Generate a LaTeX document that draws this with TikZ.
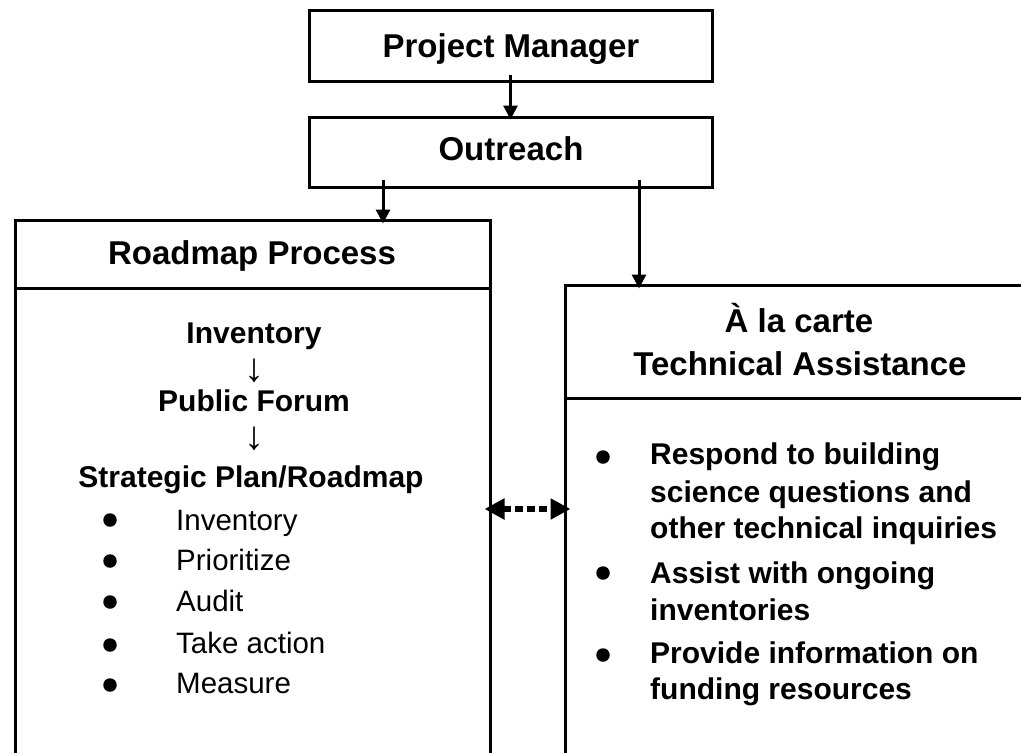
\documentclass[tikz,border=0pt]{standalone}
\usepackage{fontspec}
\setmainfont{Liberation Sans}
\usetikzlibrary{arrows.meta,calc}
\begin{document}
\begin{tikzpicture}[x=1pt,y=-1pt,
  box/.style={draw,line width=3pt,inner sep=0pt},
  hdr/.style={font=\fontsize{33}{40}\selectfont\bfseries,inner sep=0pt,anchor=base},
  bld/.style={font=\fontsize{30}{36}\selectfont\bfseries,inner sep=0pt,anchor=base},
  bldl/.style={font=\fontsize{30}{36}\selectfont\bfseries,inner sep=0pt,anchor=base west},
  regl/.style={font=\fontsize{29.5}{36}\selectfont,inner sep=0pt,anchor=base west},
  darr/.style={font=\fontsize{40}{44}\selectfont,inner sep=0pt,anchor=base},
  dot/.style={circle,fill,inner sep=0pt,minimum size=13.5pt},
  arr/.style={line width=3pt,-{Triangle[length=14pt,width=14pt]}},
  dotarr/.style={line width=6pt,dash pattern=on 8pt off 4pt,
     {Triangle[length=20pt,width=20pt]}-{Triangle[length=20pt,width=20pt]}},
]
\clip (0,0) rectangle (1021,753);
\fill[white] (0,0) rectangle (1021,753);
% boxes
\node[box,minimum width=403pt,minimum height=71pt] (pm) at (510.5,45.5) {};
\node[box,minimum width=403pt,minimum height=70pt] (out) at (510.5,152) {};
\node[box,minimum width=475pt,minimum height=68pt] (rmh) at (252.5,254) {};
\node[box,minimum width=475pt,minimum height=502pt] (rmb) at (252.5,539) {};
\node[box,minimum width=472pt,minimum height=113pt] (tah) at (801,341.5) {};
\node[box,minimum width=472pt,minimum height=392pt] (tab) at (801,594) {};
% connectors
\draw[arr] ($(pm.south)+(0,-8)$) -- ($(out.north)+(0,4)$);
\draw[arr] ($(out.south)+(-127.5,-9)$) -- ($(rmh.north)+(130.5,5)$);
\draw[arr] ($(out.south)+(128.5,-9)$) -- ($(tah.north)+(-162,5)$);
\draw[dotarr] ($(rmb.east |- 0,509)+(-7,0)$) -- ($(tab.west |- 0,509)+(7,0)$);
% texts
\node[hdr] (tpm) at (511,57) {Project Manager};
\node[hdr] (tout) at (511,160) {Outreach};
\node[hdr] (trm) at (252,264) {Roadmap Process};
\node[bld] (s1) at (254,343) {Inventory};
\node[darr] (d1) at (254,381) {↓};
\node[bld] (s2) at (254,411) {Public Forum};
\node[darr] (d2) at (254,449) {↓};
\node[bld] (s3) at (251,487) {Strategic Plan/Roadmap};
\node[dot] (b1) at (110,520) {};
\node[dot] (b2) at (110,561) {};
\node[dot] (b3) at (110,602) {};
\node[dot] (b4) at (110,645) {};
\node[dot] (b5) at (110,685) {};
\node[regl] (i1) at (176,530) {Inventory};
\node[regl] (i2) at (176,570) {Prioritize};
\node[regl] (i3) at (176,611) {Audit};
\node[regl] (i4) at (176,653) {Take action};
\node[regl] (i5) at (176,693) {Measure};
\node[hdr] (ta1) at (799,332) {À la carte};
\node[hdr] (ta2) at (800,375) {Technical Assistance};
\node[dot] (c1) at (603,457) {};
\node[dot] (c2) at (603,573) {};
\node[dot] (c3) at (603,655) {};
\node[bldl] (r1a) at (650,464) {Respond to building};
\node[bldl] (r1b) at (650,502) {science questions and};
\node[bldl] (r1c) at (650,538) {other technical inquiries};
\node[bldl] (r2a) at (650,583) {Assist with ongoing};
\node[bldl] (r2b) at (650,620) {inventories};
\node[bldl] (r3a) at (650,663) {Provide information on};
\node[bldl] (r3b) at (650,699) {funding resources};
\end{tikzpicture}
\end{document}
